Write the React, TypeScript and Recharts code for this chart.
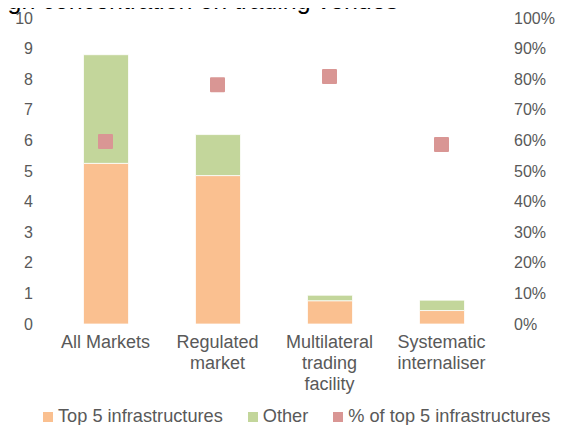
import { ComposedChart, Bar, Scatter, XAxis, YAxis } from 'recharts'

const categories = ['All Markets', 'Regulated market', 'Multilateral trading facility', 'Systematic internaliser']
const tickLines = [['All Markets'], ['Regulated', 'market'], ['Multilateral', 'trading', 'facility'], ['Systematic', 'internaliser']]
const top5 = [5.25, 4.85, 0.76, 0.44]
const other = [3.55, 1.34, 0.18, 0.34]
const top5Share = [0.596, 0.782, 0.809, 0.587]
const leftTicks = [0, 1, 2, 3, 4, 5, 6, 7, 8, 9, 10]
const rightTicks = [0, 0.1, 0.2, 0.3, 0.4, 0.5, 0.6, 0.7, 0.8, 0.9, 1]

const FONT = '"Liberation Sans", Arial, sans-serif'
const GREY = '#595959'
const ORANGE = '#fac090'
const GREEN = '#c3d69b'
const PINK = '#d99694'

const data = categories.map((name, i) => ({
  name,
  top5: top5[i],
  other: other[i],
  share: top5Share[i],
}))

function CategoryTick({ x, y, payload }: any) {
  const lines = tickLines[payload.index] ?? [payload.value]
  return (
    <g transform={`translate(${x},${y})`}>
      {lines.map((l, i) => (
        <text key={i} x={0} y={16.3 + i * 20.7} textAnchor="middle" fill={GREY} fontSize={18} fontFamily={FONT}>
          {l}
        </text>
      ))}
    </g>
  )
}

function SquareDot({ cx, cy }: any) {
  if (cx == null || cy == null) return null
  return <rect x={cx - 7.5} y={cy - 7.5} width={15} height={15} rx={1} fill={PINK} />
}

const legendItems = [
  { label: 'Top 5 infrastructures', color: ORANGE },
  { label: 'Other', color: GREEN },
  { label: '% of top 5 infrastructures', color: PINK },
]

// legend sits under the axis labels, like the Excel original
function LegendRow() {
  return (
    <div
      style={{
        position: 'absolute',
        left: 43,
        top: 406,
        whiteSpace: 'nowrap',
        fontFamily: FONT,
        fontSize: 18.2,
        lineHeight: '21px',
        color: GREY,
      }}
    >
      {legendItems.map((it, i) => (
        <span key={it.label} style={{ marginLeft: i === 0 ? 0 : 25 }}>
          <span style={{ width: 10, height: 10, background: it.color, display: 'inline-block', marginRight: 5 }} />
          {it.label}
        </span>
      ))}
    </div>
  )
}

export default function App() {
  return (
    <div style={{ position: 'relative', width: 563, height: 425, margin: '-8px 0 0 -8px', overflow: 'hidden', background: '#fff' }}>
      <div
        style={{
          position: 'absolute',
          top: -14,
          left: -16,
          fontFamily: FONT,
          fontSize: 25,
          lineHeight: '29px',
          color: '#000',
          whiteSpace: 'nowrap',
          zIndex: 2,
        }}
      >
        High concentration on trading venues
      </div>
      <ComposedChart
        width={563}
        height={425}
        data={data}
        margin={{ top: 18, right: 0, bottom: 21, left: 0 }}
        barCategoryGap="30%"
      >
        <XAxis dataKey="name" tickLine={false} axisLine={false} tick={<CategoryTick />} height={80} interval={0} />
        <YAxis
          yAxisId="left"
          domain={[0, 10]}
          ticks={leftTicks}
          width={49.5}
          tickLine={false}
          axisLine={false}
          tickMargin={10.5}
          tick={{ fill: GREY, fontSize: 16, fontFamily: FONT }}
          interval={0}
        />
        <YAxis
          yAxisId="right"
          orientation="right"
          domain={[0, 1]}
          ticks={rightTicks}
          width={65.5}
          tickLine={false}
          axisLine={false}
          tickMargin={10.5}
          tickFormatter={(v: number) => `${Math.round(v * 100)}%`}
          tick={{ fill: GREY, fontSize: 16, fontFamily: FONT, textAnchor: 'start' }}
          interval={0}
        />
        <Bar yAxisId="left" dataKey="top5" stackId="a" fill={ORANGE} barSize={45} stroke="#fff" strokeWidth={0.75} isAnimationActive={false} />
        <Bar yAxisId="left" dataKey="other" stackId="a" fill={GREEN} barSize={45} stroke="#fff" strokeWidth={0.75} isAnimationActive={false} />
        <Scatter yAxisId="right" dataKey="share" fill={PINK} shape={<SquareDot />} isAnimationActive={false} />
      </ComposedChart>
      <LegendRow />
    </div>
  )
}
